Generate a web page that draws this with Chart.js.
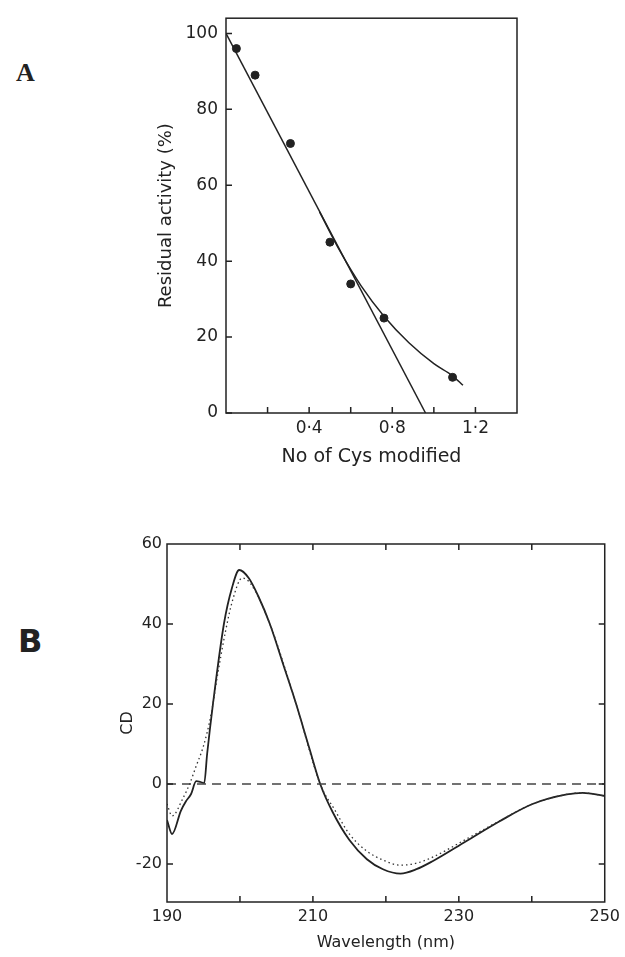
<!DOCTYPE html>
<html>
<head>
<meta charset="utf-8">
<script src="https://cdn.jsdelivr.net/npm/chart.js@4/dist/chart.umd.min.js"></script>
<style>
  body { margin: 0; background: #fff; width: 625px; height: 957px; position: relative; overflow: hidden; }
  canvas { position: absolute; left: 0; }
  #chartA { top: 0; }
  #chartB { top: 480px; }
  .tag { position: absolute; color: #222; }
  #tagA { left: 16px; top: 58px; font: bold 26px "Liberation Serif"; }
  #tagB { left: 18px; top: 622px; font: bold 32px "DejaVu Sans"; }
</style>
</head>
<body>
<div class="tag" id="tagA">A</div>
<div class="tag" id="tagB">B</div>
<canvas id="chartA" width="625" height="480"></canvas>
<canvas id="chartB" width="625" height="477"></canvas>
<script>
// --- panel A: residual activity vs Cys modified ---
const aDotsX = [0.05, 0.14, 0.31, 0.50, 0.60, 0.76, 1.09];
const aDotsY = [96, 89, 71, 45, 34, 25, 9.4];
const aLineX = [0, 0.96];
const aLineY = [100, 0];
const aCurveX = [0.45, 0.55, 0.65, 0.76, 0.88, 1.0, 1.09, 1.14];
const aCurveY = [53, 42.5, 33.5, 25.5, 18.5, 13, 9.8, 7.3];
const aTickLabelsX = [0.4, 0.8, 1.2];
const aTickMarksX = [0.2, 0.4, 0.6, 0.8, 1.0, 1.2];
const aTicksY = [0, 20, 40, 60, 80, 100];

// --- panel B: CD spectra ---
const bWaveSolid = [190, 190.7, 191.9, 192.6, 193.3, 194, 194.6, 195.1, 195.5, 196.3, 197.8, 198.9, 199.9, 201.2, 202.5, 204.1, 206, 207.7, 209.5, 211, 212.7, 215, 217.4, 219.6, 222, 224.2, 226.4, 231, 235.6, 240.1, 244.8, 247, 250];
const bCdSolid   = [-9, -12.5, -6.7, -4.3, -2.5, 0.7, 0.5, 0.2, 7.5, 20, 40, 49, 53.5, 51.5, 47, 40, 29.5, 20, 9, 0, -7, -14, -18.8, -21.3, -22.4, -21.3, -19.3, -14.3, -9.3, -5, -2.6, -2.2, -3];
const bWaveDot = [190, 190.7, 192.2, 193.1, 194, 195, 196, 197, 198, 199, 200.3, 201.5, 204.1, 207.7, 211, 213, 215, 217.4, 219.6, 222, 224.2, 226.4, 231, 235.6, 240.1, 244.8, 247, 250];
const bCdDot   = [-5, -8, -3.5, 0, 4.5, 9.5, 17, 28, 38, 46, 51.5, 50, 40, 20, 0, -6.5, -12.5, -16.8, -19, -20.3, -19.8, -18.3, -13.8, -9.2, -5, -2.6, -2.2, -3];
const bZeroX = [190, 250];
const bZeroY = [0, 0];
const bTicksX = [190, 210, 230, 250];
const bTickMarksX = [200, 210, 220, 230, 240];
const bTicksY = [-20, 0, 20, 40, 60];
const bTickMarksY = [-20, 0, 20, 40];

const ink = '#222';
const pts = (xs, ys) => xs.map((x, i) => ({ x: x, y: ys[i] }));

// box around plot area with inward tick marks
const frame = {
  id: 'frame',
  afterDatasetsDraw(chart, args, o) {
    const { ctx, chartArea: a, scales: { x, y } } = chart;
    const L = o.len || 6;
    ctx.save();
    ctx.strokeStyle = ink;
    ctx.lineWidth = 1.5;
    ctx.strokeRect(a.left, a.top, a.right - a.left, a.bottom - a.top);
    ctx.beginPath();
    (o.bottom || []).forEach(v => { const p = x.getPixelForValue(v); ctx.moveTo(p, a.bottom); ctx.lineTo(p, a.bottom - L); });
    (o.top || []).forEach(v => { const p = x.getPixelForValue(v); ctx.moveTo(p, a.top); ctx.lineTo(p, a.top + L); });
    (o.left || []).forEach(v => { const p = y.getPixelForValue(v); ctx.moveTo(a.left, p); ctx.lineTo(a.left + L, p); });
    (o.right || []).forEach(v => { const p = y.getPixelForValue(v); ctx.moveTo(a.right, p); ctx.lineTo(a.right - L, p); });
    ctx.stroke();
    ctx.restore();
  }
};

const font = 'DejaVu Sans';

new Chart(document.getElementById('chartA'), {
  type: 'scatter',
  data: {
    datasets: [
      { data: pts(aLineX, aLineY), showLine: true, borderColor: ink, borderWidth: 1.5, pointRadius: 0 },
      { data: pts(aCurveX, aCurveY), showLine: true, borderColor: ink, borderWidth: 1.5, pointRadius: 0, cubicInterpolationMode: 'monotone' },
      { data: pts(aDotsX, aDotsY), backgroundColor: ink, borderColor: ink, pointRadius: 4 }
    ]
  },
  options: {
    responsive: false,
    animation: false,
    layout: { padding: { left: 152, right: 108, top: 12, bottom: 8 } },
    plugins: {
      legend: { display: false },
      tooltip: { enabled: false },
      frame: { bottom: aTickMarksX, left: aTicksY, len: 6 }
    },
    scales: {
      x: {
        type: 'linear', min: 0, max: 1.4,
        grid: { display: false, drawTicks: false }, border: { display: false },
        afterBuildTicks: s => { s.ticks = aTickLabelsX.map(v => ({ value: v })); },
        afterFit: s => { s.height = 59; },
        ticks: { padding: 5, color: ink, font: { family: font, size: 17 }, callback: v => v.toFixed(1).replace('.', '·') },
        title: { display: true, text: 'No of Cys modified', color: ink, font: { family: font, size: 19 } }
      },
      y: {
        min: 0, max: 104,
        grid: { display: false, drawTicks: false }, border: { display: false },
        afterBuildTicks: s => { s.ticks = aTicksY.map(v => ({ value: v })); },
        afterFit: s => { s.width = 74; },
        ticks: { padding: 8, color: ink, font: { family: font, size: 17 } },
        title: { display: true, text: 'Residual activity (%)', color: ink, font: { family: font, size: 18 } }
      }
    }
  },
  plugins: [frame]
});

new Chart(document.getElementById('chartB'), {
  type: 'scatter',
  data: {
    datasets: [
      { data: pts(bZeroX, bZeroY), showLine: true, borderColor: '#444', borderWidth: 1.3, borderDash: [9, 6], pointRadius: 0 },
      { data: pts(bWaveDot, bCdDot), showLine: true, borderColor: '#333', borderWidth: 1.3, borderDash: [1.5, 3], pointRadius: 0, cubicInterpolationMode: 'monotone' },
      { data: pts(bWaveSolid, bCdSolid), showLine: true, borderColor: ink, borderWidth: 1.8, pointRadius: 0, cubicInterpolationMode: 'monotone' }
    ]
  },
  options: {
    responsive: false,
    animation: false,
    layout: { padding: { left: 114, right: 20, top: 64, bottom: 1 } },
    plugins: {
      legend: { display: false },
      tooltip: { enabled: false },
      frame: { bottom: bTickMarksX, top: bTickMarksX, left: bTickMarksY, right: bTickMarksY, len: 6 }
    },
    scales: {
      x: {
        type: 'linear', min: 190, max: 250,
        grid: { display: false, drawTicks: false }, border: { display: false },
        afterBuildTicks: s => { s.ticks = bTicksX.map(v => ({ value: v })); },
        afterFit: s => { s.height = 54; },
        ticks: { padding: 5, color: ink, font: { family: font, size: 16 } },
        title: { display: true, text: 'Wavelength (nm)', color: ink, font: { family: font, size: 16 } }
      },
      y: {
        min: -29.5, max: 60,
        grid: { display: false, drawTicks: false }, border: { display: false },
        afterBuildTicks: s => { s.ticks = bTicksY.map(v => ({ value: v })); },
        afterFit: s => { s.width = 53; },
        ticks: { padding: 5, color: ink, font: { family: font, size: 16 } },
        title: { display: true, text: 'CD', color: ink, font: { family: font, size: 16 } }
      }
    }
  },
  plugins: [frame]
});
</script>
</body>
</html>
